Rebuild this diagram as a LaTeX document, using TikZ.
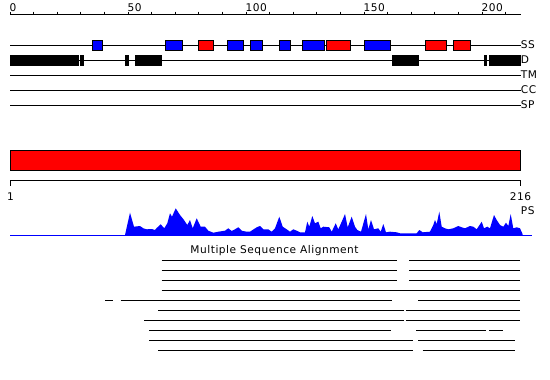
\documentclass[tikz,border=0pt]{standalone}
\usepackage{fontspec}
\setmainfont{DejaVu Sans}[LetterSpace=5]
\tikzset{
  trk/.style={line width=0.9pt},
  bx/.style={draw=black,line width=0.8pt},
  lbl/.style={inner sep=0pt,font=\fontsize{10.6}{12}\selectfont},
  aln/.style={line width=1pt},
}
\begin{document}
\begin{tikzpicture}[x=1pt,y=-1pt]
\useasboundingbox (0,0) rectangle (550,380);
% top ruler
\draw[trk] (10,14.5) -- (520.7,14.5);
\foreach \k in {0,...,21} {\draw[line width=0.8pt] ({10+23.6*\k},11.5) -- ({10+23.6*\k},14.5);}
\foreach \v in {0,50,100,150,200} {\node[lbl,anchor=base west] (r\v) at ({10+2.36*\v-0.5},11) {\v};}
% tracks
\foreach \y/\n in {45/SS,60/D,75/TM,90/CC,105/SP} {
  \draw[trk] (10,\y) -- (520.7,\y);
  \node[lbl,anchor=west] (t\n) at (520.7,\y) {\n};
}
% SS boxes
\foreach \a/\b/\c in {92.3/102.7/blue,165.3/182.7/blue,198.3/213.7/red,227.3/243.7/blue,250.3/262.7/blue,279/290.7/blue,302.3/324.7/blue,326/350.7/red,364.3/390.7/blue,425.3/446.7/red,453.3/470.7/red}
  {\draw[bx,fill=\c] (\a,40) rectangle (\b,50.7);}
% D boxes
\foreach \a/\b in {10/79,80/83.7,125/129,135/162,392/418.7,484/487,489/520.7}
  {\fill[black] (\a,55) rectangle (\b,65.7);}
% red bar
\draw[bx,fill=red] (10,150) rectangle (520.7,170);
% second ruler
\draw[trk] (10,180.5) -- (520.7,180.5);
\draw[trk] (10,180) -- (10,186);
\draw[trk] (520.7,180) -- (520.7,186);
\node[lbl,anchor=base] (one) at (10.5,200) {1};
\node[lbl,anchor=base] (end) at (520.5,200) {216};
\node[lbl,anchor=west] (ps) at (520.7,211) {PS};
% PS profile
\fill[blue] (10,235) -- (125,235) -- (130,212.7) -- (134,226.7) -- (140,226) -- (143.3,228.3) -- (146.7,229.3) -- (151.7,229) -- (155,230) -- (156.7,228) -- (160.7,224.3) -- (164.3,228.3) -- (167.3,223.3) -- (170,213.3) -- (172,216.7) -- (175.7,208.3) -- (180,215) -- (184,220) -- (187.3,225) -- (190,220) -- (192.7,228.3) -- (196.7,218.3) -- (200.7,226.7) -- (205,226.7) -- (208.3,230.7) -- (213.3,232.7) -- (218.3,231.7) -- (225,230.7) -- (228.3,228.3) -- (231.7,231) -- (235,229.3) -- (238.3,227.3) -- (241.7,230.7) -- (246.7,231.7)
 -- (250,231.7) -- (256.7,227.3) -- (260,226) -- (263.3,229.3) -- (268.3,229.3) -- (271.7,231.7) -- (275,228.3) -- (279.3,216.7) -- (282.7,226.7) -- (286.7,229.3) -- (290,231.7) -- (293.3,229.3) -- (296.7,230.7) -- (300,232.3) -- (305,232.3) -- (307.3,221.7) -- (309.3,226.7) -- (312.3,216) -- (315,223.3) -- (318.3,221.7) -- (320.7,228.3) -- (323.3,226.7) -- (329.3,227.3) -- (331.7,231.7) -- (335.7,223.3) -- (338.3,229.3) -- (341.7,221.7) -- (345,214) -- (347.7,227.3) -- (351.7,216.7) -- (355,226.7) -- (357.3,230) -- (361,231.7) -- (366,214) -- (368.3,229.3) -- (371,220) -- (374,229.3) -- (378.3,228.3) -- (380.7,231.7) -- (383.3,224) -- (386,232.3) -- (390,231.7) -- (396.7,232.3) -- (400,233.3)
 -- (416.7,233.3) -- (419.3,230) -- (422.7,232.3) -- (430,231.7) -- (433.3,225) -- (435,220) -- (436.7,224) -- (439.3,211.7) -- (441.7,226.7) -- (445,228.3) -- (448.3,229.3) -- (453.3,228.3) -- (458.3,226) -- (461.7,227.3) -- (465,228.3) -- (470,226) -- (473.3,226.7) -- (476.7,229.3) -- (481.7,221.7) -- (484,228.3) -- (487.3,226.7) -- (490,228.3) -- (494,215) -- (496.7,220) -- (500,225) -- (503.3,226.7) -- (506,222.7) -- (508.3,226) -- (510.7,214) -- (513.3,228.3) -- (516.7,227.3) -- (520,228.3) -- (522.7,234.3) -- (522.7,235) -- cycle;
\draw[blue,line width=1pt] (10,235.5) -- (532,235.5);
% MSA
\node[lbl] (msa) at (274.5,251) {Multiple Sequence Alignment};
\foreach \y/\a/\b in {260/161.7/397,260/409.3/520,270/161.7/397,270/409.3/520,280/161.7/397,280/409.3/520,290/161.7/520,
  300/105/113.3,300/120.7/392.3,300/418.3/520,310/158.3/404.3,310/406/520,320/144.3/404.3,320/406/520,
  330/149.3/391,330/416/486,330/489.3/503.3,340/149.3/413.3,340/418.3/515.3,350/158.3/413.3,350/422.7/515.3}
  {\draw[aln] (\a,\y) -- (\b,\y);}
\end{tikzpicture}
\end{document}
